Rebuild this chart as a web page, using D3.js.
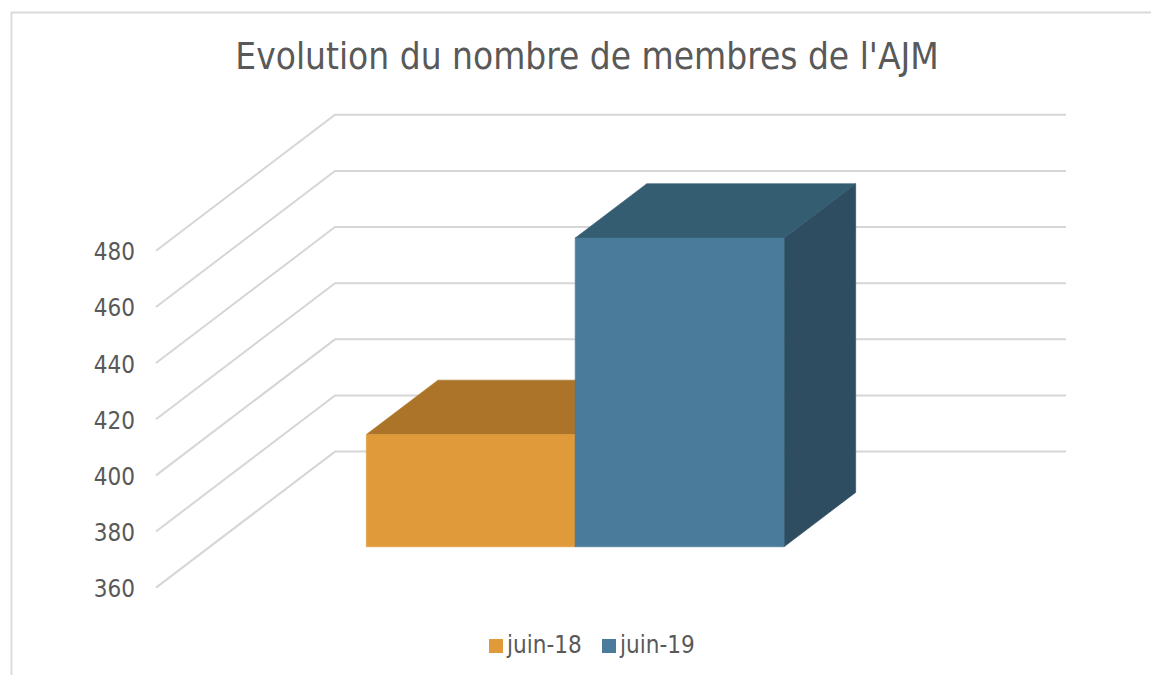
<!DOCTYPE html>
<html>
<head>
<meta charset="utf-8">
<script src="https://cdn.jsdelivr.net/npm/d3@7"></script>
<style>
  html, body { margin: 0; padding: 0; background: #fff; overflow: hidden; }
  text { font-family: "DejaVu Sans", sans-serif; font-stretch: condensed; fill: #595959; }
</style>
</head>
<body>
<div class="box"></div>
<script>
// Data
const titre = "Evolution du nombre de membres de l'AJM";
const categories = ['juin-18', 'juin-19'];
const valeurs = [400, 470];
const ticks = [360, 380, 400, 420, 440, 460, 480];
const couleursFace = ['#e09a3a', '#4a7b9b'];
const couleursDessus = ['#ab7429', '#345d72'];
const couleursCote = ['#8a5d20', '#2e4d60'];

const svg = d3.select('.box')
              .append('svg')
              .attr('width', 1151)
              .attr('height', 675)
              .style('display', 'block');

// Cadre du graphique
svg.append('path')
   .attr('d', 'M11.5,675V12.5H1151')
   .attr('fill', 'none')
   .attr('stroke', '#d9d9d9')
   .attr('stroke-width', 1.8);

svg.append('text')
   .attr('x', 587)
   .attr('y', 69)
   .attr('text-anchor', 'middle')
   .style('font-size', '36.7px')
   .text(titre);

// Plan avant et profondeur
const x = d3.scaleBand()
            .domain(categories)
            .range([156, 887])
            .paddingInner(0)
            .paddingOuter(0.75);

const y = d3.scaleLinear()
            .domain([360, 480])
            .range([587.6, 250.8]);

const prof = {dx: 179, dy: -136};
const proj = (px, py, t) => [px + prof.dx * t, py + prof.dy * t];
const poly = pts => pts.map(p => p.join(',')).join(' ');

// Grille
const grille = svg.append('g').attr('fill', 'none').attr('stroke', '#d6d6d6').attr('stroke-width', 2);
ticks.forEach(t => {
    const a = [156, y(t)];
    const b = proj(156, y(t), 1);
    const c = proj(887, y(t), 1);
    grille.append('polyline').attr('points', poly([a, b, c]));
});

// Labels de l'axe
svg.append('g')
   .selectAll('text')
   .data(ticks)
   .enter()
   .append('text')
   .attr('x', 135)
   .attr('y', d => y(d))
   .attr('dy', 9.5)
   .attr('text-anchor', 'end')
   .style('font-size', '24px')
   .text(d => d);

// Barres 3D
const t0 = 0.3, t1 = 0.7;
categories.forEach((c, i) => {
    const g = svg.append('g').attr('stroke-width', 0.6);
    const xa = x(c), xb = xa + x.bandwidth();
    const yh = y(valeurs[i]), yb = y(360);
    g.append('polygon')
     .attr('fill', couleursCote[i])
     .attr('stroke', couleursCote[i])
     .attr('points', poly([proj(xb, yb, t0), proj(xb, yb, t1), proj(xb, yh, t1), proj(xb, yh, t0)]));
    g.append('polygon')
     .attr('fill', couleursDessus[i])
     .attr('stroke', couleursDessus[i])
     .attr('points', poly([proj(xa, yh, t0), proj(xb, yh, t0), proj(xb, yh, t1), proj(xa, yh, t1)]));
    g.append('polygon')
     .attr('fill', couleursFace[i])
     .attr('stroke', couleursFace[i])
     .attr('points', poly([proj(xa, yb, t0), proj(xb, yb, t0), proj(xb, yh, t0), proj(xa, yh, t0)]));
});

// Légende
const legende = svg.append('g');
const legendeX = [489, 602];
categories.forEach((c, i) => {
    legende.append('rect')
           .attr('x', legendeX[i])
           .attr('y', 639)
           .attr('width', 14)
           .attr('height', 14)
           .attr('fill', couleursFace[i]);
    legende.append('text')
           .attr('x', legendeX[i] + 18)
           .attr('y', 653)
           .style('font-size', '24px')
           .text(c);
});
</script>
</body>
</html>
